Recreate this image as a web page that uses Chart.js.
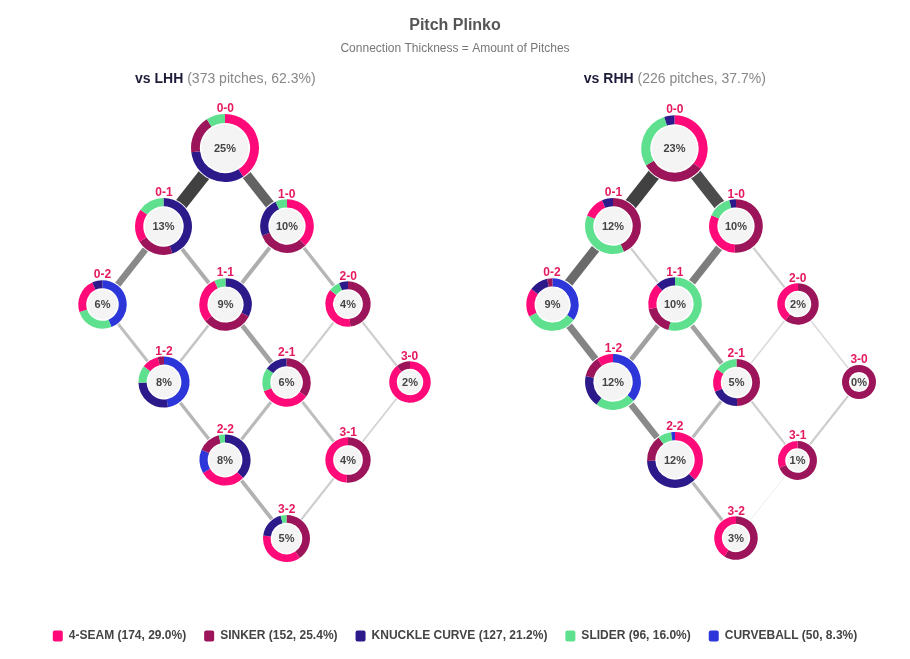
<!DOCTYPE html>
<html>
<head>
<meta charset="utf-8">
<title>Pitch Plinko</title>
<script src="https://cdn.jsdelivr.net/npm/chart.js@4.4.1/dist/chart.umd.min.js"></script>
<style>
  html, body { margin: 0; padding: 0; background: #fff; }
  #wrap { position: relative; width: 910px; height: 659px; }
  #wrap canvas.ring { position: absolute; }
</style>
</head>
<body>
<div id="wrap"><canvas id="plinko" width="910" height="659"></canvas></div>
<script>
const PITCH_TYPES = ['4-SEAM', 'SINKER', 'KNUCKLE CURVE', 'SLIDER', 'CURVEBALL'];
const PITCH_TOTALS = [174, 152, 127, 96, 50];
const PITCH_COLORS = ['#ff0a78', '#9c1459', '#2c1a8a', '#5fe08e', '#2d36d8'];

const COUNTS = ['0-0', '0-1', '1-0', '0-2', '1-1', '2-0', '1-2', '2-1', '3-0', '2-2', '3-1', '3-2'];

const SPLITS = ['vs LHH', 'vs RHH'];
const SPLIT_PITCHES = [373, 226];

// share of the split's pitches thrown in each count (%)
const LHH_COUNT_PCT = [25, 13, 10, 6, 9, 4, 8, 6, 2, 8, 4, 5];
const RHH_COUNT_PCT = [23, 12, 10, 9, 10, 2, 12, 5, 0, 12, 1, 3];

// pitch mix in each count, same order as PITCH_TYPES
const LHH_MIX = [
  [41, 18, 32, 9, 0],
  [19, 21, 45, 15, 0],
  [38, 31, 24, 7, 0],
  [23, 0, 7, 26, 44],
  [29, 31.5, 32.5, 7, 0],
  [37.2, 48.3, 6.4, 8.1, 0],
  [10.5, 4, 27, 11, 47.5],
  [34, 34.5, 15, 15.5, 0],
  [89, 11, 0, 0, 0],
  [29, 14.5, 37.5, 4, 15],
  [49, 51, 0, 0, 0],
  [36.5, 40.5, 19, 4, 0]
];
const RHH_MIX = [
  [35.5, 31, 5, 28.5, 0],
  [12.5, 43.6, 6.4, 37.5, 0],
  [30.8, 50.8, 4, 14.4, 0],
  [17.5, 3.3, 11.7, 32.5, 35],
  [16, 18, 12, 54, 0],
  [39.5, 60.5, 0, 0, 0],
  [9.4, 12.2, 18.3, 23.3, 36.7],
  [15.8, 49.4, 19, 15.5, 0],
  [0, 100, 0, 0, 0],
  [37.5, 15.5, 37, 7.8, 2.2],
  [31, 69, 0, 0, 0],
  [41, 59, 0, 0, 0]
];

// count-to-count connections and the pitches that travelled them
const EDGES = [
  ['0-0', '0-1'], ['0-0', '1-0'], ['0-1', '0-2'], ['0-1', '1-1'], ['1-0', '1-1'], ['1-0', '2-0'],
  ['0-2', '1-2'], ['1-1', '1-2'], ['1-1', '2-1'], ['2-0', '2-1'], ['2-0', '3-0'],
  ['1-2', '2-2'], ['2-1', '2-2'], ['2-1', '3-1'], ['3-0', '3-1'], ['2-2', '3-2'], ['3-1', '3-2']
];
const LHH_FLOW = [45, 33, 21, 11, 11, 9, 7, 6, 14, 4, 4, 9, 8, 7, 3, 10, 4];
const RHH_FLOW = [22, 20, 15, 2, 12, 2, 11, 7, 7, 1, 1, 10, 4, 2, 2, 4, 0];

const COUNT_PCT = [LHH_COUNT_PCT, RHH_COUNT_PCT];
const MIX = [LHH_MIX, RHH_MIX];
const FLOW = [LHH_FLOW, RHH_FLOW];

// layout
const FONT = '"Liberation Sans", Arial, Helvetica, sans-serif';
const PANEL_X = [0, 7.32];        // panel centres in grid units
const STEP_X = 62.3, STEP_Y = 78;  // px per grid unit
const ORIGIN_X = 222, ORIGIN_Y = 148;
const LABEL_RED = '#e5195f';

Chart.defaults.font.family = FONT;

function nodePoint(p, count) {
  const [b, s] = count.split('-').map(Number);
  return { x: PANEL_X[p] + (b - s), y: b + s };
}

function ringRadius(pct) {
  return 17 + 17 * Math.pow(pct / 25, 0.6);
}

const allPitches = SPLIT_PITCHES.reduce((a, b) => a + b, 0);

const datasets = [];
SPLITS.forEach((name, p) => {
  const flow = FLOW[p];
  const top = Math.max(...flow);
  EDGES.forEach(([from, to], i) => {
    const t = flow[i] / top;
    const g = Math.round(238 - 173 * Math.pow(t, 0.7));
    datasets.push({
      data: [nodePoint(p, from), nodePoint(p, to)],
      showLine: true,
      borderColor: `rgb(${g},${g},${g})`,
      borderWidth: 1 + 12 * t,
      borderCapStyle: 'butt',
      pointRadius: 0,
      pointHoverRadius: 0
    });
  });
});

const plinkoLabels = {
  id: 'plinkoLabels',
  afterDatasetsDraw(chart) {
    const { ctx, scales: { x, y } } = chart;
    ctx.save();
    SPLITS.forEach((name, p) => {
      // panel header
      const rest = ` (${SPLIT_PITCHES[p]} pitches, ${(SPLIT_PITCHES[p] / allPitches * 100).toFixed(1)}%)`;
      ctx.font = `bold 14px ${FONT}`;
      const w1 = ctx.measureText(name).width;
      ctx.font = `14px ${FONT}`;
      const w2 = ctx.measureText(rest).width;
      const hx = x.getPixelForValue(PANEL_X[p]) - (w1 + w2) / 2;
      const hy = y.getPixelForValue(-0.88);
      ctx.textBaseline = 'middle';
      ctx.textAlign = 'left';
      ctx.font = `bold 14px ${FONT}`;
      ctx.fillStyle = '#1c1c3a';
      ctx.fillText(name, hx, hy);
      ctx.font = `14px ${FONT}`;
      ctx.fillStyle = '#888';
      ctx.fillText(rest, hx + w1, hy);

      // count labels above each ring
      ctx.font = `bold 12px ${FONT}`;
      ctx.fillStyle = LABEL_RED;
      ctx.textAlign = 'center';
      ctx.textBaseline = 'bottom';
      COUNTS.forEach((c, i) => {
        const pt = nodePoint(p, c);
        const r = ringRadius(COUNT_PCT[p][i]);
        ctx.fillText(c, x.getPixelForValue(pt.x), y.getPixelForValue(pt.y) - r + 1);
      });
    });
    ctx.restore();
  }
};

const chart = new Chart(document.getElementById('plinko'), {
  type: 'scatter',
  data: { datasets },
  options: {
    responsive: false,
    animation: false,
    events: [],
    layout: { padding: { bottom: 7 } },
    scales: {
      x: { type: 'linear', display: false, min: -3.56, max: 11.04 },
      y: { type: 'linear', display: false, reverse: true, min: -1, max: 6 }
    },
    plugins: {
      title: {
        display: true,
        text: 'Pitch Plinko',
        color: '#555',
        font: { size: 16, weight: 'bold' },
        padding: { top: 16, bottom: 6 }
      },
      subtitle: {
        display: true,
        text: 'Connection Thickness = Amount of Pitches',
        color: '#777',
        font: { size: 12 },
        padding: { top: 0, bottom: 10 }
      },
      legend: {
        position: 'bottom',
        labels: {
          boxWidth: 10,
          boxHeight: 11,
          padding: 18,
          useBorderRadius: true,
          borderRadius: 2,
          color: '#444',
          font: { size: 12, weight: 'bold' },
          generateLabels: () => PITCH_TYPES.map((name, i) => ({
            text: `${name} (${PITCH_TOTALS[i]}, ${(PITCH_TOTALS[i] / allPitches * 100).toFixed(1)}%)`,
            fillStyle: PITCH_COLORS[i],
            strokeStyle: PITCH_COLORS[i],
            lineWidth: 0,
            fontColor: '#444',
            hidden: false,
            borderRadius: 2
          }))
        }
      },
      tooltip: { enabled: false }
    }
  },
  plugins: [plinkoLabels]
});

// fit the hidden scales so grid rows sit STEP_Y apart from the top node
const ca = chart.chartArea;
chart.options.scales.x.min = (ca.left - ORIGIN_X) / STEP_X;
chart.options.scales.x.max = (ca.right - ORIGIN_X) / STEP_X;
chart.options.scales.y.min = (ca.top - ORIGIN_Y) / STEP_Y;
chart.options.scales.y.max = (ca.bottom - ORIGIN_Y) / STEP_Y;
chart.update('none');

const ringFace = {
  id: 'ringFace',
  beforeDatasetsDraw(c) {
    const arc = c.getDatasetMeta(0).data[0];
    if (!arc) return;
    const { x, y, innerRadius, outerRadius } = arc.getProps(['x', 'y', 'innerRadius', 'outerRadius'], true);
    const ctx = c.ctx;
    ctx.save();
    ctx.fillStyle = '#fff';
    ctx.beginPath();
    ctx.arc(x, y, outerRadius + 1, 0, Math.PI * 2);
    ctx.fill();
    ctx.fillStyle = '#f4f4f4';
    ctx.beginPath();
    ctx.arc(x, y, innerRadius - 1.5, 0, Math.PI * 2);
    ctx.fill();
    ctx.restore();
  },
  afterDatasetsDraw(c, args, opts) {
    const arc = c.getDatasetMeta(0).data[0];
    if (!arc) return;
    const { x, y } = arc.getProps(['x', 'y'], true);
    const ctx = c.ctx;
    ctx.save();
    ctx.font = `bold 11px ${FONT}`;
    ctx.fillStyle = '#444';
    ctx.textAlign = 'center';
    ctx.textBaseline = 'middle';
    ctx.fillText(opts.text, x, y + 0.5);
    ctx.restore();
  }
};

const wrap = document.getElementById('wrap');
SPLITS.forEach((name, p) => {
  COUNTS.forEach((c, i) => {
    const pct = COUNT_PCT[p][i];
    const mix = MIX[p][i];
    const r = ringRadius(pct);
    const thickness = 4 + 0.1 * r;
    const pt = nodePoint(p, c);
    const cx = chart.scales.x.getPixelForValue(pt.x);
    const cy = chart.scales.y.getPixelForValue(pt.y);
    const size = Math.ceil(2 * r + 4);
    const cv = document.createElement('canvas');
    cv.className = 'ring';
    cv.width = size;
    cv.height = size;
    cv.style.left = (cx - size / 2) + 'px';
    cv.style.top = (cy - size / 2) + 'px';
    wrap.appendChild(cv);

    // biggest slice first, clockwise from 12 o'clock
    const order = mix.map((v, k) => k).filter(k => mix[k] > 0).sort((a, b) => mix[b] - mix[a]);
    new Chart(cv, {
      type: 'doughnut',
      data: {
        labels: order.map(k => PITCH_TYPES[k]),
        datasets: [{
          data: order.map(k => mix[k]),
          backgroundColor: order.map(k => PITCH_COLORS[k]),
          borderWidth: 0
        }]
      },
      options: {
        responsive: false,
        animation: false,
        events: [],
        radius: r,
        cutout: r - thickness,
        layout: { padding: 0 },
        plugins: {
          legend: { display: false },
          tooltip: { enabled: false },
          ringFace: { text: pct + '%' }
        }
      },
      plugins: [ringFace]
    });
  });
});
</script>
</body>
</html>
